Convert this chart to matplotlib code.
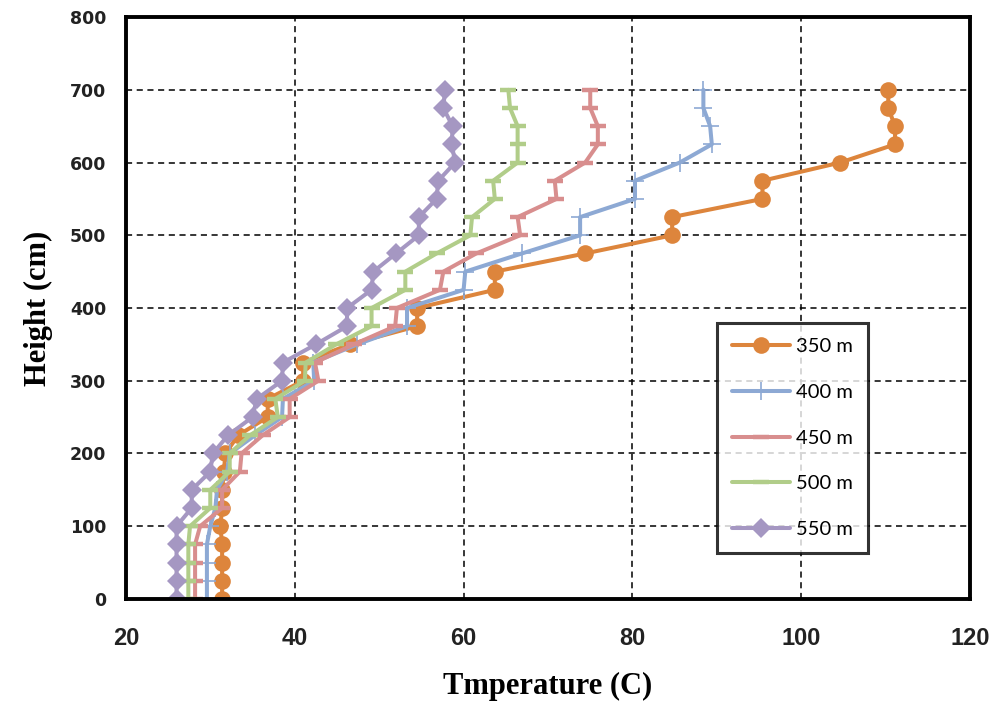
import matplotlib
matplotlib.use("Agg")
import matplotlib.pyplot as plt
import numpy as np

heights = [0, 25, 50, 75, 100, 125, 150, 175, 200, 225, 250, 275, 300, 325, 350,
           375, 400, 425, 450, 475, 500, 525, 550, 575, 600, 625, 650, 675, 700]

t_350 = [31.4, 31.4, 31.4, 31.4, 31.2, 31.4, 31.4, 31.6, 31.8, 33.3, 36.8, 36.8, 41.0, 41.0, 46.5,
         54.5, 54.5, 63.7, 63.7, 74.4, 84.7, 84.7, 95.4, 95.4, 104.6, 111.1, 111.1, 110.3, 110.3]
t_400 = [29.6, 29.6, 29.6, 29.6, 30.0, 30.6, 30.8, 32.0, 32.3, 35.3, 38.5, 38.6, 42.3, 42.2, 47.4,
         53.3, 53.3, 60.0, 60.2, 66.9, 73.8, 73.8, 80.3, 80.3, 85.6, 89.4, 89.2, 88.4, 88.4]
t_450 = [28.2, 28.2, 28.2, 28.2, 28.8, 31.4, 31.4, 33.5, 33.7, 36.2, 39.4, 39.4, 42.8, 42.4, 47.0,
         51.9, 52.1, 57.2, 57.6, 61.5, 66.7, 66.4, 71.0, 70.8, 74.4, 75.9, 75.9, 75.0, 75.0]
t_500 = [27.4, 27.4, 27.4, 27.4, 27.6, 30.0, 30.0, 32.3, 32.3, 34.7, 38.0, 37.7, 41.2, 41.3, 44.9,
         49.1, 49.1, 53.1, 53.1, 56.8, 60.8, 61.0, 63.7, 63.5, 66.4, 66.4, 66.4, 65.5, 65.3]
t_550 = [26.0, 26.0, 26.0, 26.0, 26.0, 27.8, 27.8, 30.0, 30.3, 32.1, 35.0, 35.5, 38.5, 38.6, 42.5,
         46.2, 46.2, 49.1, 49.3, 52.0, 54.7, 54.7, 56.8, 57.0, 59.0, 58.6, 58.7, 57.6, 57.8]

labels = ["350 m", "400 m", "450 m", "500 m", "550 m"]
x_ticks = [20, 40, 60, 80, 100, 120]
y_ticks = [0, 100, 200, 300, 400, 500, 600, 700, 800]

fig = plt.figure(figsize=(9.91, 7.13), dpi=100)
ax = fig.add_axes([0.127, 0.160, 0.852, 0.816])

styles = [
    dict(color="#DD853C", marker="o", markersize=12, markeredgewidth=0),
    dict(color="#8DA9D4", marker="+", markersize=13, markeredgewidth=1.2),
    dict(color="#D88E8E", marker="_", markersize=12, markeredgewidth=3.2),
    dict(color="#B1CD89", marker="_", markersize=12, markeredgewidth=3.2),
    dict(color="#A597C2", marker="D", markersize=10, markeredgewidth=0),
]
series = [t_350, t_400, t_450, t_500, t_550]
for s, lab, st in zip(series, labels, styles):
    ax.plot(s, heights, linewidth=2.9, label=lab, solid_capstyle="round",
            solid_joinstyle="round", **st)

ax.set_xlim(20, 120)
ax.set_ylim(0, 800)
ax.set_xticks(x_ticks)
ax.set_yticks(y_ticks)
ax.grid(True, color="black", linestyle=(0, (4, 3)), linewidth=1.1)
ax.set_axisbelow(True)
for sp in ax.spines.values():
    sp.set_linewidth(2.8)
    sp.set_color("black")
ax.tick_params(length=0)
for lab in ax.get_yticklabels():
    lab.set_fontfamily("DejaVu Sans")
    lab.set_fontweight("bold")
    lab.set_fontsize(12.5)
    lab.set_color("#222222")
ax.tick_params(axis="y", pad=14)
for lab in ax.get_xticklabels():
    lab.set_fontfamily("Liberation Sans")
    lab.set_fontweight("bold")
    lab.set_fontsize(17)
    lab.set_color("#222222")
ax.tick_params(axis="x", pad=20)

ax.set_xlabel("Tmperature (C)", family="Liberation Serif", fontweight="bold",
              fontsize=22, labelpad=16)
ax.set_ylabel("Height (cm)", family="Liberation Serif", fontweight="bold",
              fontsize=22, labelpad=12)

leg = ax.legend(loc="upper left", bbox_to_anchor=(0.700, 0.474), frameon=True,
                fancybox=False, edgecolor="black", handlelength=2.9,
                labelspacing=1.42, borderpad=0.75, handletextpad=0.3,
                prop=dict(family="Lato", size=14.5), borderaxespad=0)
leg.get_frame().set_linewidth(2.2)

fig.savefig("out.png", dpi=100)
